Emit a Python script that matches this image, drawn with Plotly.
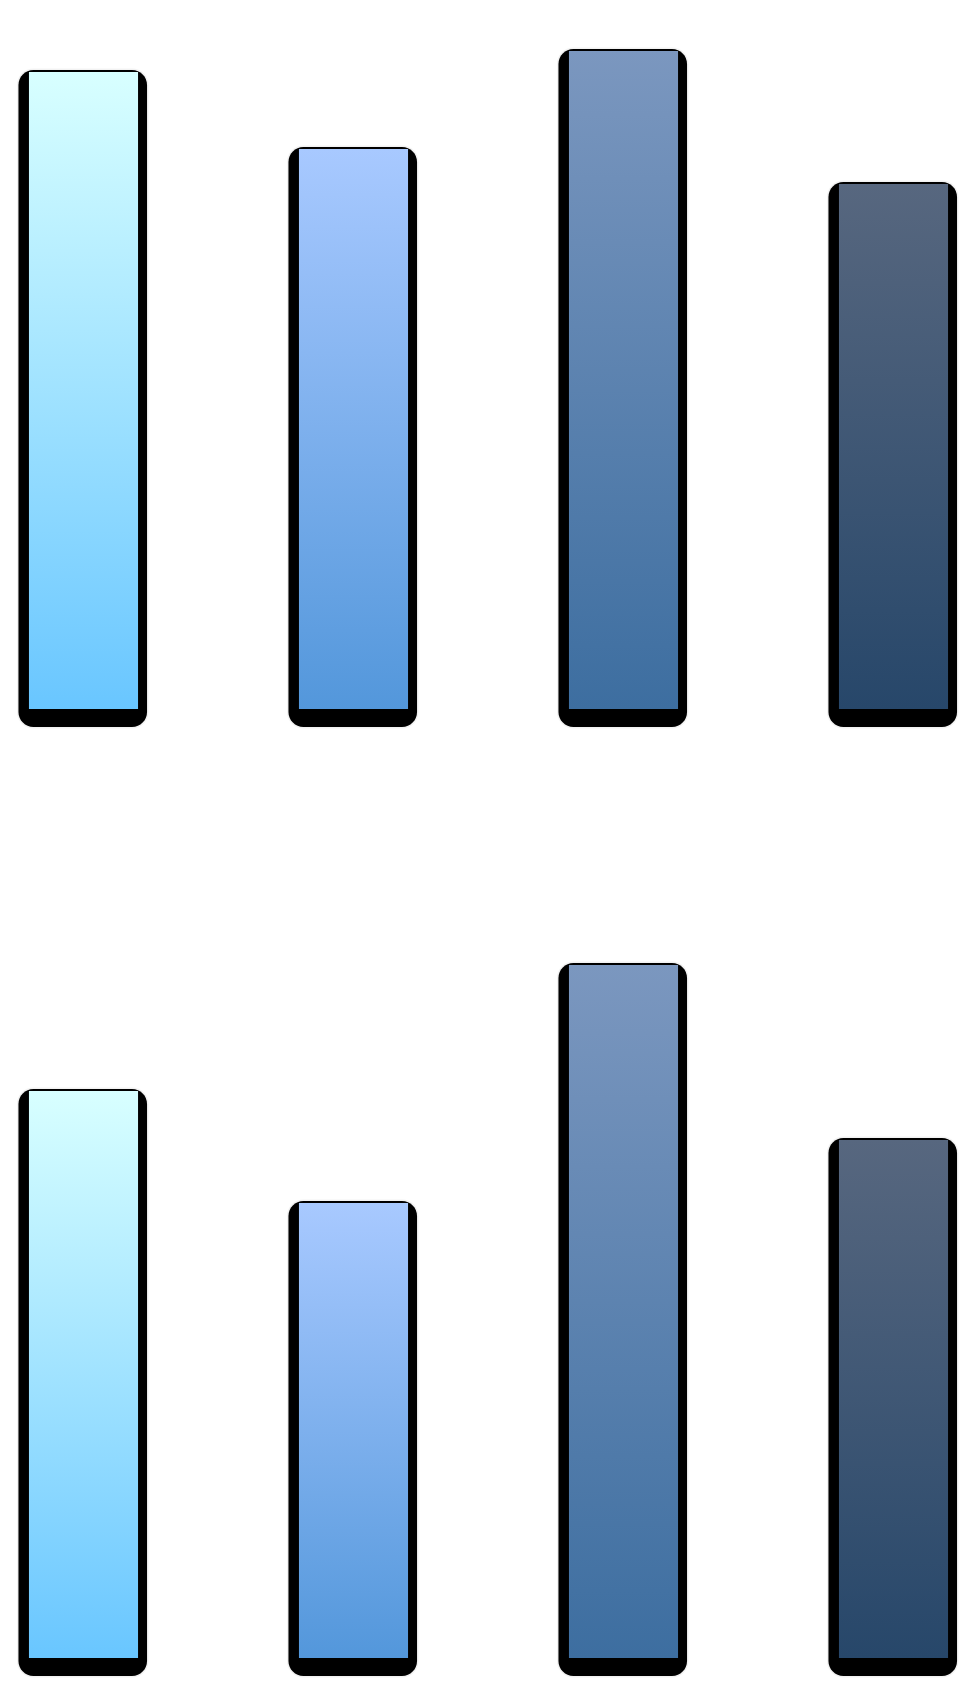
import plotly.graph_objects as go

# Data
categories = ["A", "B", "C", "D"]
top_values = [91, 80, 94, 75]
bottom_values = [81, 65, 99, 74]
bar_top_colors = ["#D8FFFF", "#A8C9FF", "#7B97BF", "#57677F"]
bar_bottom_colors = ["#69C6FF", "#5397DB", "#3D6EA0", "#27476A"]

# Geometry (pixels)
W, H = 962, 1681
PX_PER_UNIT_Y = 7.0          # vertical scale, pixels per value unit
PX_PER_CAT = 270.0           # horizontal spacing between categories
FIRST_CENTER_PX = 83.5       # pixel centre of the first category
BAR_WIDTH = 0.404            # in category units

# Panels: (top pixel, bottom pixel, baseline pixel)
panels = [(0, 740, 709), (760, H, 1658)]

x_range = [(0 - FIRST_CENTER_PX) / PX_PER_CAT, (W - FIRST_CENTER_PX) / PX_PER_CAT]

fig = go.Figure()
shapes = []


def rounded_path(x0, x1, y0, y1, rx, ry):
    # rounded rectangle in data units (y0 bottom, y1 top), corners as cubic arcs
    k = 0.5523
    return (
        f"M {x0 + rx},{y1} L {x1 - rx},{y1} "
        f"C {x1 - rx + k * rx},{y1} {x1},{y1 - ry + k * ry} {x1},{y1 - ry} "
        f"L {x1},{y0 + ry} "
        f"C {x1},{y0 + ry - k * ry} {x1 - rx + k * rx},{y0} {x1 - rx},{y0} "
        f"L {x0 + rx},{y0} "
        f"C {x0 + rx - k * rx},{y0} {x0},{y0 + ry - k * ry} {x0},{y0 + ry} "
        f"L {x0},{y1 - ry} "
        f"C {x0},{y1 - ry + k * ry} {x0 + rx - k * rx},{y1} {x0 + rx},{y1} Z"
    )


datasets = [top_values, bottom_values]
for p, (values, (ptop, pbot, pbase)) in enumerate(zip(datasets, panels)):
    xa = "x" if p == 0 else f"x{p + 1}"
    ya = "y" if p == 0 else f"y{p + 1}"
    for i, v in enumerate(values):
        xl = i - BAR_WIDTH / 2
        xr = i + BAR_WIDTH / 2
        # drop shadow
        sx0 = xl - 10.5 / PX_PER_CAT
        sx1 = xr + 9.0 / PX_PER_CAT
        sy0 = -18.0 / PX_PER_UNIT_Y
        sy1 = v + 2.0 / PX_PER_UNIT_Y
        for grow, col in [(1.5, "rgba(0,0,0,0.05)"), (0.0, "#000000")]:
            gx = grow / PX_PER_CAT
            gy = grow / PX_PER_UNIT_Y
            shapes.append(dict(
                type="path", xref=xa, yref=ya, layer="below",
                path=rounded_path(sx0 - gx, sx1 + gx, sy0 - gy, sy1 + gy,
                                  (15 + grow) / PX_PER_CAT, (15 + grow) / PX_PER_UNIT_Y),
                fillcolor=col, line=dict(width=0),
            ))
        # gradient bar
        fig.add_trace(go.Scatter(
            x=[xl, xr, xr, xl, xl],
            y=[0, 0, v, v, 0],
            mode="lines",
            fill="toself",
            line=dict(width=0, color=bar_bottom_colors[i]),
            fillgradient=dict(
                type="vertical",
                colorscale=[[0, bar_bottom_colors[i]], [1, bar_top_colors[i]]],
            ),
            xaxis=xa, yaxis=ya,
            name=categories[i],
            showlegend=False,
            hoverinfo="skip",
        ))

layout_axes = {}
for p, (ptop, pbot, pbase) in enumerate(panels):
    sx = "xaxis" if p == 0 else f"xaxis{p + 1}"
    sy = "yaxis" if p == 0 else f"yaxis{p + 1}"
    ya = "y" if p == 0 else f"y{p + 1}"
    xa = "x" if p == 0 else f"x{p + 1}"
    layout_axes[sx] = dict(range=x_range, domain=[0, 1], visible=False,
                           fixedrange=True, anchor=ya)
    layout_axes[sy] = dict(
        range=[(pbase - pbot) / PX_PER_UNIT_Y, (pbase - ptop) / PX_PER_UNIT_Y],
        domain=[1 - pbot / H, 1 - ptop / H],
        visible=False, fixedrange=True, anchor=xa,
    )

fig.update_layout(
    width=W, height=H,
    margin=dict(l=0, r=0, t=0, b=0),
    paper_bgcolor="white", plot_bgcolor="white",
    shapes=shapes,
    showlegend=False,
    **layout_axes,
)

fig.write_html("out.html", config={"displayModeBar": False})
